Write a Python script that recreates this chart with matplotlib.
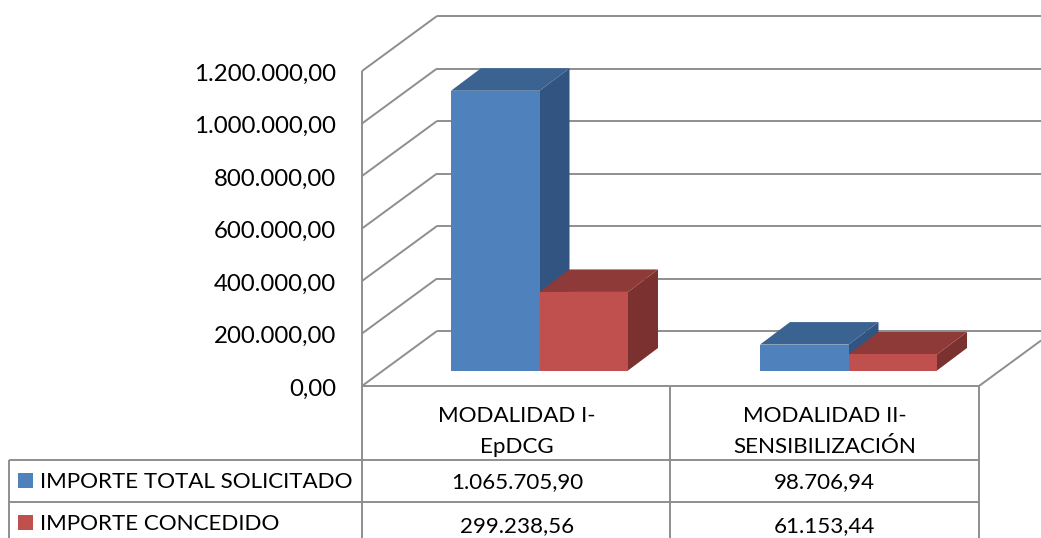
import matplotlib
matplotlib.use("Agg")
import matplotlib.pyplot as plt
from matplotlib.patches import Polygon, Rectangle

plt.rcParams["font.family"] = ["Lato", "DejaVu Sans"]

# --- datos ---
categorias = ["MODALIDAD I-\nEpDCG", "MODALIDAD II-\nSENSIBILIZACIÓN"]
series = ["IMPORTE TOTAL SOLICITADO", "IMPORTE CONCEDIDO"]
solicitado = [1065705.90, 98706.94]
concedido = [299238.56, 61153.44]
ticks = [0, 200000, 400000, 600000, 800000, 1000000, 1200000]
tick_labels = ["0,00", "200.000,00", "400.000,00", "600.000,00", "800.000,00",
               "1.000.000,00", "1.200.000,00"]
etiquetas_sol = ["1.065.705,90", "98.706,94"]
etiquetas_con = ["299.238,56", "61.153,44"]

GRIS = "#8e8e8e"
AZUL = ("#4f81bd", "#3b6391", "#325480")
ROJO = ("#c0504d", "#8e3a38", "#7b312f")

W, H = 1041, 538
fig = plt.figure(figsize=(W / 100, H / 100), dpi=100)
ax = fig.add_axes([0, 0, 1, 1])
ax.set_xlim(0, W)
ax.set_ylim(H, 0)
ax.axis("off")

# geometria en pixeles
x0, x1, xmid = 362, 979, 670
y0, ymax = 386, 71
dx, dy = 75, -55
bar_dx, bar_dy = 30, -22.5
base = 370.5
bar_w = 88.5
bar_left = [451, 760]
fs_ejes = 17.3
fs_tabla = 16.1


def val_h(v):
    return v / ticks[-1] * (y0 - ymax)


def linea(xs, ys, lw=1.4):
    ax.plot(xs, ys, color=GRIS, lw=lw, solid_capstyle="butt", zorder=1)


# paredes y rejilla
for t, lab in zip(ticks, tick_labels):
    y = y0 - val_h(t)
    linea([x0, x0 + dx], [y, y + dy])
    linea([x0 + dx, W], [y + dy, y + dy])
    ax.text(336, y + 3, lab, ha="right", va="center", fontsize=fs_ejes, color="black")
linea([x0, x0], [ymax, H])
linea([x1, W], [y0, y0 - (W - x1) * 55 / 75])


def barra3d(x, ancho, v, cols, z):
    h = val_h(v)
    top = base - h
    ax.add_patch(Polygon([(x + ancho, top), (x + ancho + bar_dx, top + bar_dy),
                          (x + ancho + bar_dx, base + bar_dy), (x + ancho, base)],
                         fc=cols[2], ec="none", zorder=z))
    ax.add_patch(Polygon([(x, top), (x + bar_dx, top + bar_dy),
                          (x + ancho + bar_dx, top + bar_dy), (x + ancho, top)],
                         fc=cols[1], ec="none", zorder=z))
    ax.add_patch(Rectangle((x, top), ancho, h, fc=cols[0], ec="none", zorder=z))


for i in range(2):
    barra3d(bar_left[i], bar_w, solicitado[i], AZUL, 3)
    barra3d(bar_left[i] + bar_w, bar_w, concedido[i], ROJO, 4)

# --- tabla de datos ---
linea([x0, x1], [y0, y0])
linea([9, x1], [460, 460])
linea([9, x1], [502, 502])
linea([9, 9], [460, H])
linea([xmid, xmid], [y0, H])
linea([x1, x1], [y0, H])

centros = [(x0 + xmid) / 2 + 1, (xmid + x1) / 2]
for c, cat, a, b in zip(centros, categorias, etiquetas_sol, etiquetas_con):
    l1, l2 = cat.split("\n")
    ax.text(c, 416, l1, ha="center", va="center", fontsize=fs_tabla, color="black")
    ax.text(c, 447, l2, ha="center", va="center", fontsize=fs_tabla, color="black")
    ax.text(c, 482, a, ha="center", va="center", fontsize=fs_tabla, color="black")
    ax.text(c, 526, b, ha="center", va="center", fontsize=fs_tabla, color="black")

for s, cols, yc in zip(series, (AZUL, ROJO), (480.5, 522.5)):
    ax.add_patch(Rectangle((18, yc - 7.5), 15, 15, fc=cols[0], ec="none", zorder=3))
    ax.text(40, yc + 1, s, ha="left", va="center", fontsize=fs_tabla, color="black")

fig.savefig("out.png", dpi=100)
